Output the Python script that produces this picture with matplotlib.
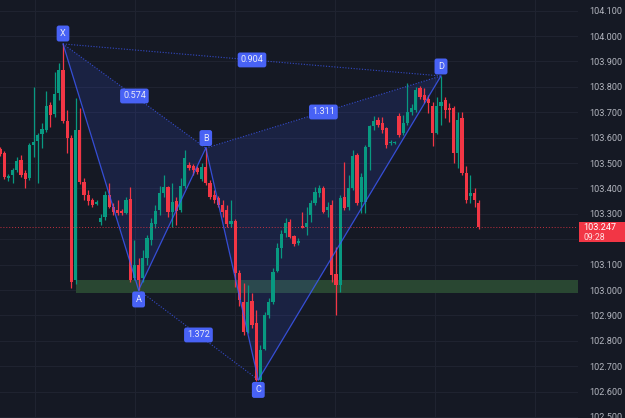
import matplotlib
matplotlib.use("Agg")
import matplotlib.pyplot as plt
from matplotlib.patches import Rectangle, Polygon
import numpy as np

# ---------------- data ----------------
opens = [103.555, 103.539, 103.441, 103.453, 103.472, 103.512, 103.461, 103.441, 103.571, 103.587,
         103.614, 103.630, 103.728, 103.693, 103.776, 103.866, 103.665, 103.598, 103.039, 103.630,
         103.425, 103.374, 103.354, 103.339, 103.268, 103.287, 103.374, 103.327, 103.315, 103.311,
         103.303, 103.358, 103.047, 103.098, 103.047, 103.126, 103.197, 103.260, 103.315, 103.382,
         103.406, 103.307, 103.350, 103.315, 103.409, 103.492, 103.488, 103.480, 103.437, 103.484,
         103.421, 103.374, 103.362, 103.335, 103.315, 103.260, 103.272, 103.067, 102.953, 102.835,
         102.957, 102.870, 102.646, 102.768, 102.902, 102.953, 103.075, 103.165, 103.224, 103.268,
         103.213, 103.185, 103.252, 103.248, 103.295, 103.343, 103.382, 103.402, 103.315, 103.335,
         103.063, 103.020, 103.366, 103.327, 103.402, 103.531, 103.346, 103.346, 103.563, 103.646,
         103.669, 103.657, 103.638, 103.577, 103.577, 103.685, 103.618, 103.657, 103.701, 103.709,
         103.795, 103.768, 103.752, 103.724, 103.618, 103.724, 103.748, 103.717, 103.717, 103.539,
         103.677, 103.461, 103.370, 103.382, 103.343]
highs = [103.563, 103.547, 103.457, 103.480, 103.524, 103.531, 103.472, 103.579, 103.799, 103.618,
         103.657, 103.783, 103.740, 103.858, 103.894, 103.969, 103.709, 103.610, 103.756, 103.717,
         103.441, 103.394, 103.362, 103.354, 103.299, 103.390, 103.421, 103.343, 103.354, 103.319,
         103.366, 103.406, 103.197, 103.126, 103.157, 103.217, 103.283, 103.335, 103.409, 103.453,
         103.409, 103.421, 103.366, 103.441, 103.551, 103.504, 103.496, 103.488, 103.500, 103.559,
         103.433, 103.394, 103.370, 103.354, 103.335, 103.354, 103.280, 103.079, 103.028, 103.020,
         102.988, 102.921, 102.783, 102.913, 102.969, 103.087, 103.185, 103.236, 103.283, 103.280,
         103.217, 103.205, 103.307, 103.327, 103.354, 103.406, 103.413, 103.409, 103.346, 103.354,
         103.169, 103.374, 103.504, 103.453, 103.551, 103.539, 103.461, 103.571, 103.650, 103.685,
         103.681, 103.681, 103.642, 103.591, 103.587, 103.697, 103.689, 103.815, 103.732, 103.799,
         103.803, 103.795, 103.768, 103.740, 103.760, 103.843, 103.760, 103.736, 103.724, 103.701,
         103.701, 103.488, 103.453, 103.402, 103.354]
lows = [103.528, 103.437, 103.429, 103.421, 103.465, 103.445, 103.402, 103.433, 103.524, 103.421,
        103.559, 103.622, 103.642, 103.681, 103.748, 103.657, 103.539, 103.008, 103.024, 103.417,
        103.354, 103.335, 103.327, 103.335, 103.256, 103.276, 103.323, 103.295, 103.295, 103.295,
        103.299, 103.031, 103.039, 103.000, 103.031, 103.098, 103.177, 103.244, 103.295, 103.366,
        103.287, 103.248, 103.256, 103.307, 103.402, 103.472, 103.453, 103.457, 103.429, 103.413,
        103.358, 103.343, 103.327, 103.287, 103.248, 103.248, 103.012, 102.937, 102.823, 102.831,
        102.850, 102.642, 102.642, 102.764, 102.890, 102.945, 103.071, 103.126, 103.209, 103.205,
        103.173, 103.177, 103.244, 103.217, 103.268, 103.335, 103.366, 103.303, 103.287, 103.031,
        102.902, 102.992, 103.315, 103.315, 103.394, 103.335, 103.303, 103.303, 103.472, 103.630,
        103.642, 103.618, 103.559, 103.571, 103.575, 103.602, 103.610, 103.650, 103.689, 103.701,
        103.752, 103.736, 103.697, 103.567, 103.614, 103.650, 103.677, 103.661, 103.500, 103.480,
        103.453, 103.343, 103.343, 103.327, 103.240]
closes = [103.535, 103.445, 103.449, 103.472, 103.508, 103.453, 103.437, 103.571, 103.583, 103.610,
          103.634, 103.724, 103.689, 103.772, 103.866, 103.665, 103.598, 103.031, 103.630, 103.425,
          103.374, 103.350, 103.335, 103.346, 103.283, 103.374, 103.327, 103.307, 103.303, 103.303,
          103.354, 103.039, 103.098, 103.039, 103.126, 103.205, 103.264, 103.311, 103.382, 103.406,
          103.307, 103.346, 103.311, 103.409, 103.520, 103.480, 103.472, 103.465, 103.484, 103.421,
          103.366, 103.354, 103.335, 103.307, 103.260, 103.272, 103.067, 102.961, 102.835, 102.953,
          102.862, 102.646, 102.764, 102.902, 102.953, 103.071, 103.165, 103.220, 103.264, 103.209,
          103.181, 103.193, 103.244, 103.264, 103.343, 103.386, 103.402, 103.307, 103.327, 103.059,
          103.020, 103.362, 103.323, 103.402, 103.528, 103.343, 103.445, 103.563, 103.646, 103.665,
          103.650, 103.630, 103.571, 103.583, 103.581, 103.610, 103.657, 103.701, 103.717, 103.787,
          103.760, 103.748, 103.736, 103.618, 103.724, 103.740, 103.709, 103.709, 103.539, 103.669,
          103.461, 103.354, 103.382, 103.354, 103.247]

pattern_names = ["X", "A", "B", "C", "D"]
pattern_bars = [15, 33, 49, 61.5, 105]
pattern_prices = [103.969, 103.000, 103.559, 102.646, 103.843]
ratio_links = [("X", "B"), ("X", "D"), ("B", "D"), ("A", "C")]
ratio_texts = ["0.574", "0.904", "1.311", "1.372"]

zone_start_bar = 18.2
zone_top = 103.039
zone_bottom = 102.988

last_price = 103.247
countdown = "09:28"
price_ticks = [102.5, 102.6, 102.7, 102.8, 102.9, 103.0, 103.1, 103.2, 103.3,
               103.4, 103.5, 103.6, 103.7, 103.8, 103.9, 104.0, 104.1]
hidden_tick = 103.2

# ---------------- style ----------------
BG = "#151924"
GRID = "#1f2330"
UP = "#089981"
DOWN = "#f23645"
PAT = "#3d5afe"
TXT = "#b2b5be"

plt.rcParams["font.family"] = ["Roboto", "DejaVu Sans"]

W, H = 625, 418
fig = plt.figure(figsize=(W / 100, H / 100), dpi=100)
fig.patch.set_facecolor(BG)
plot_right_px = 578
ax = fig.add_axes([0, 0, plot_right_px / W, 1])
ax.set_facecolor(BG)

bar_px = 4.2
ax.set_xlim(0, plot_right_px / bar_px)
ax.set_ylim(102.496, 104.142)

# grid
for p in price_ticks:
    ax.axhline(p, color=GRID, lw=0.8, zorder=0)
for px in [35, 135, 235, 335, 435, 535]:
    ax.axvline(px / bar_px, color=GRID, lw=0.8, zorder=0)

# zone
xmax = plot_right_px / bar_px
ax.add_patch(Rectangle((zone_start_bar, zone_bottom), xmax - zone_start_bar,
                       zone_top - zone_bottom, facecolor="#2b4a33", edgecolor="none",
                       alpha=0.95, zorder=1))

# candles
idx = np.arange(len(opens))
o = np.array(opens); h = np.array(highs); l = np.array(lows); c = np.array(closes)
colors = np.where(c >= o, UP, DOWN)
ax.vlines(idx, l, h, colors=colors, lw=0.9, zorder=3)
bottoms = np.minimum(o, c)
heights = np.maximum(np.abs(c - o), 0.004)
ax.bar(idx, heights, bottom=bottoms, width=0.78, color=colors, edgecolor="none", zorder=4)

# harmonic pattern
pts = {n: (b, p) for n, b, p in zip(pattern_names, pattern_bars, pattern_prices)}
for tri in [("X", "A", "B"), ("B", "C", "D")]:
    ax.add_patch(Polygon([pts[t] for t in tri], closed=True, facecolor=PAT,
                         edgecolor="none", alpha=0.14, zorder=2))
for a, b in [("X", "A"), ("A", "B"), ("B", "C"), ("C", "D")]:
    ax.plot([pts[a][0], pts[b][0]], [pts[a][1], pts[b][1]], color=PAT, lw=0.9,
            alpha=0.8, zorder=5)
for (a, b), t in zip(ratio_links, ratio_texts):
    ax.plot([pts[a][0], pts[b][0]], [pts[a][1], pts[b][1]], color=PAT, lw=0.8,
            ls=(0, (1, 1.5)), alpha=0.75, zorder=5)
    mx = (pts[a][0] + pts[b][0]) / 2
    my = (pts[a][1] + pts[b][1]) / 2
    ax.text(mx, my, t, ha="center", va="center", fontsize=6.6, color="#e8eaf6",
            zorder=7, bbox=dict(boxstyle="round,pad=0.32,rounding_size=0.25",
                                fc="#4862f5", ec="none"))

offsets = {"X": 7.5, "A": -6.8, "B": 7.2, "C": -7.2, "D": 6.8}
for n in pattern_names:
    x, y = pts[n]
    ax.annotate(n, (x, y), xytext=(0, offsets[n]), textcoords="offset points",
                ha="center", va="center", fontsize=6.6, color="#e8eaf6", zorder=8,
                bbox=dict(boxstyle="round,pad=0.38,rounding_size=0.25",
                          fc="#4862f5", ec="none"))

# last price line
ax.axhline(last_price, color=DOWN, lw=0.7, ls=(0, (1, 2)), alpha=0.8, zorder=6)

# axis ticks on right
ax.yaxis.tick_right()
ax.set_yticks(price_ticks)
ax.set_yticklabels(["" if abs(p - hidden_tick) < 1e-9 else f"{p:.3f}" for p in price_ticks])
ax.tick_params(axis="y", length=0, pad=8, labelsize=6.6, labelcolor=TXT)
ax.set_xticks([])
for s in ax.spines.values():
    s.set_visible(False)

# price tag
y0 = 1 - 242 / H
y1 = 1 - 222 / H
fig.patches.append(Rectangle((579 / W, y0), (625 - 579) / W, y1 - y0,
                             transform=fig.transFigure, facecolor=DOWN,
                             edgecolor="none", zorder=10))
fig.text(583 / W, 1 - 228 / H, f"{last_price:.3f}", ha="left", va="center",
         fontsize=6.6, color="white", zorder=11)
fig.text(583 / W, 1 - 237.5 / H, countdown, ha="left", va="center",
         fontsize=6.3, color="#ffe0e3", zorder=11)

fig.savefig("out.png", dpi=100, facecolor=BG)
